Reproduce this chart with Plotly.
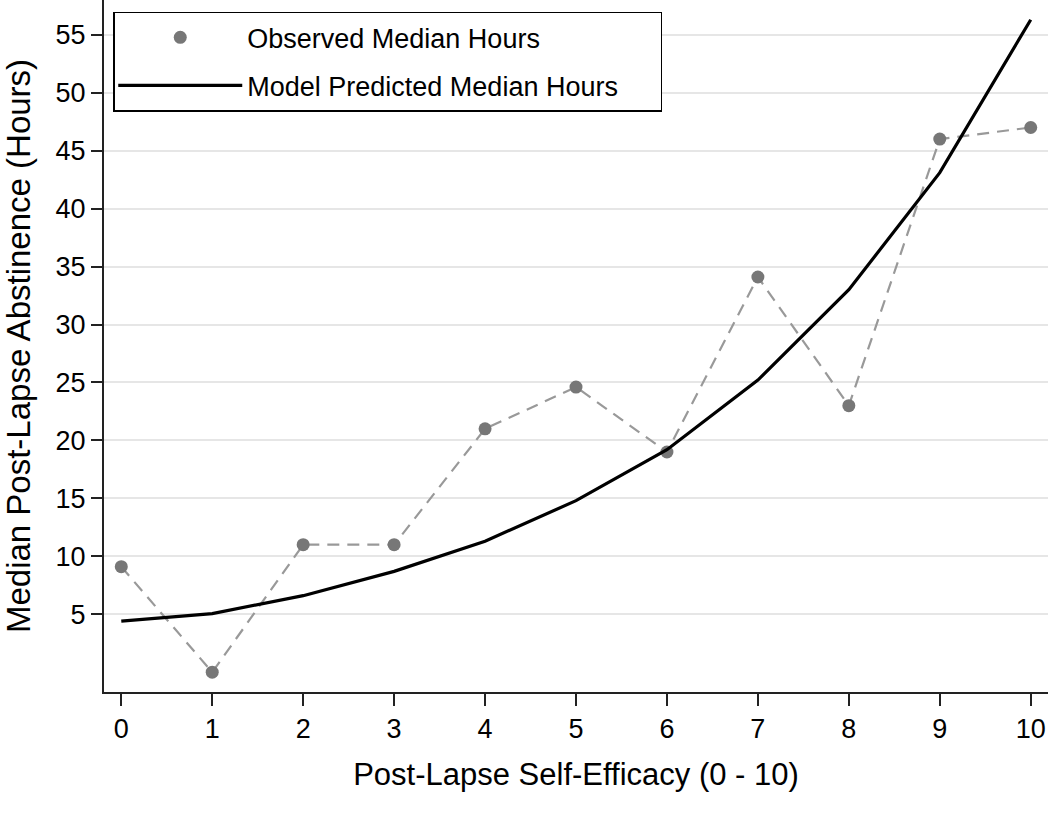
import plotly.graph_objects as go

x_vals = [0, 1, 2, 3, 4, 5, 6, 7, 8, 9, 10]
observed = [9.1, 0.0, 11.0, 11.0, 21.0, 24.6, 19.0, 34.1, 23.0, 46.0, 47.0]
predicted = [4.4, 5.06, 6.6, 8.7, 11.3, 14.8, 19.2, 25.2, 33.0, 43.1, 56.3]
y_ticks = [5, 10, 15, 20, 25, 30, 35, 40, 45, 50, 55]
x_ticks = [0, 1, 2, 3, 4, 5, 6, 7, 8, 9, 10]

FONT = "Liberation Sans, Arial, Helvetica, sans-serif"

fig = go.Figure()
# dashed connecting line for observed values (not shown in legend)
fig.add_trace(go.Scatter(
    x=x_vals, y=observed, mode="lines", name="Observed Median Hours",
    line=dict(color="#999999", width=2.2, dash="12px,8px"),
    legendgroup="obs", showlegend=False, hoverinfo="skip",
))
fig.add_trace(go.Scatter(
    x=x_vals, y=observed, mode="markers", name="Observed Median Hours",
    marker=dict(color="#777777", size=13),
    legendgroup="obs",
))
fig.add_trace(go.Scatter(
    x=x_vals, y=predicted, mode="lines", name="Model Predicted Median Hours",
    line=dict(color="#000000", width=3.2),
    legendgroup="model",
))

fig.update_layout(
    width=1050, height=820,
    margin=dict(l=104, r=2, t=0, b=128),
    paper_bgcolor="white", plot_bgcolor="white",
    font=dict(family=FONT, size=27, color="black"),
    showlegend=True,
    legend=dict(
        x=0.0098, y=0.983, xanchor="left", yanchor="top",
        orientation="h", entrywidth=408,
        bgcolor="white", bordercolor="black", borderwidth=1.5,
        font=dict(family=FONT, size=27, color="black"),
        itemwidth=124,
        traceorder="grouped",
        tracegroupgap=10,
    ),
    xaxis=dict(
        range=[-0.19, 10.19], tickmode="array", tickvals=x_ticks,
        showgrid=False, zeroline=False,
        showline=True, linecolor="#222222", linewidth=2,
        ticks="outside", ticklen=12, tickwidth=2, tickcolor="#222222",
        tickfont=dict(size=27),
        title=dict(text="Post-Lapse Self-Efficacy (0 - 10)", font=dict(size=31), standoff=20),
        automargin=False,
    ),
    yaxis=dict(
        range=[-1.71, 58.0], tickmode="array", tickvals=y_ticks,
        showgrid=True, gridcolor="#e6e6e6", gridwidth=2,
        zeroline=False,
        showline=True, linecolor="#222222", linewidth=2,
        ticks="outside", ticklen=11, tickwidth=2, tickcolor="#222222",
        tickfont=dict(size=27),
        title=dict(text="Median Post-Lapse Abstinence (Hours)", font=dict(size=33), standoff=17),
        automargin=False,
    ),
)

fig.write_html(
    "out.html",
    config={"displayModeBar": False},
    post_script="document.body.style.margin='0px';document.body.style.padding='0px';",
)
